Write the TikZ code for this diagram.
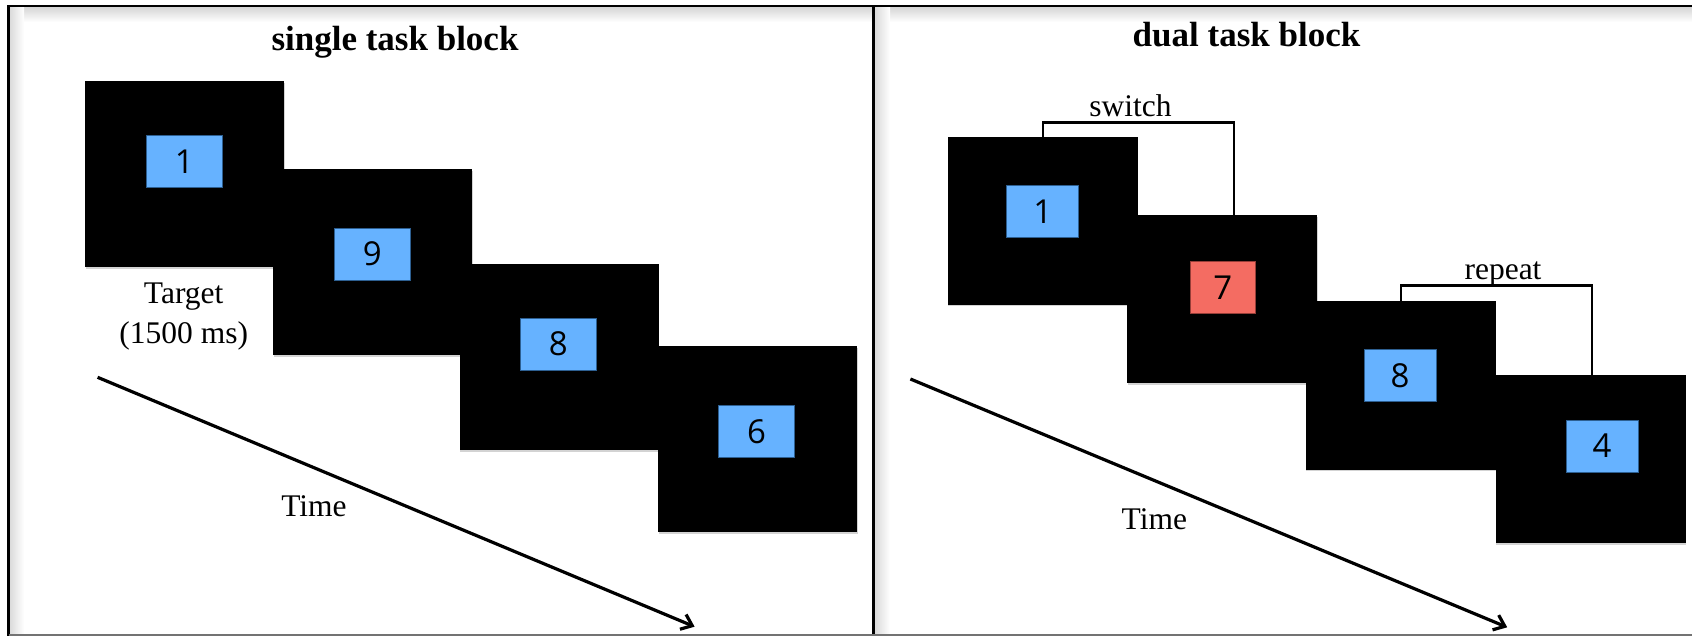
\documentclass[tikz,border=0pt]{standalone}
\usepackage{fontspec}
\setmainfont{Liberation Serif}
\newfontfamily\digitfont{Open Sans}
\usetikzlibrary{arrows.meta,shadows}
\definecolor{cueblue}{RGB}{102,178,255}
\definecolor{cueblueedge}{RGB}{45,95,145}
\definecolor{cuered}{RGB}{244,108,98}
\definecolor{cuerededge}{RGB}{150,62,56}

\begin{document}
\begin{tikzpicture}[x=1pt,y=-1pt,
  frameline/.style={line width=2.5pt, line cap=rect},
  screen/.style={fill=black, anchor=north west, inner sep=0pt, outer sep=0pt,
    drop shadow={shadow xshift=0.8pt, shadow yshift=-1.8pt, opacity=0.35}},
  lscreen/.style={screen, minimum width=199pt, minimum height=186pt},
  rscreen/.style={screen, minimum width=190pt, minimum height=168pt},
  cue/.style={fill=cueblue, draw=cueblueedge, line width=0.8pt, inner sep=0pt,
    minimum height=52pt, font=\digitfont\fontsize{33}{36}\selectfont},
  lcue/.style={cue, minimum width=76pt},
  rcue/.style={cue, minimum width=72pt},
  redcue/.style={cue, fill=cuered, draw=cuerededge, minimum width=65pt},
  heading/.style={font=\fontsize{35}{40}\selectfont\bfseries, anchor=base, inner sep=0pt},
  label/.style={font=\fontsize{31.5}{36}\selectfont, anchor=base, inner sep=0pt},
  timearrow/.style={line width=3.2pt, -{Straight Barb[length=10pt,width=16pt]}},
  bracket/.style={line width=2.6pt, line cap=rect}
]
\useasboundingbox (0,0) rectangle (1692,636);

% frame with its soft inner shadow
\shade[top color=black!16, bottom color=white] (10,7.3) rectangle (1692,22);
\shade[left color=black!14, right color=white] (10,7.3) rectangle (24,636);
\shade[left color=black!14, right color=white] (875.3,7.3) rectangle (890,636);
\draw[frameline] (8.6,645) -- (8.6,6) -- (1700,6);
\draw[line width=3.8pt] (873.5,6) -- (873.5,645);
\draw[black!55, line width=2pt] (8.6,635) -- (1700,635);

% ---------- single task block ----------
\node[heading] (t1) at (395,50.5) {single task block};

\node[lscreen] (l1) at (85,81.5) {};
\node[lscreen] (l2) at (272.7,169) {};
\node[lscreen] (l3) at (459.5,264) {};
\node[lscreen] (l4) at (658,346) {};

\node[lcue] (lc1) at (184.3,161.7) {1};
\node[lcue] (lc2) at (372.4,254) {9};
\node[lcue] (lc3) at (558.4,344) {8};
\node[lcue] (lc4) at (756.6,431.5) {6};

\node[label] (tg) at (183.7,304) {Target};
\node[label] (dur) at (183.7,343) {(1500 ms)};
\node[label] (time1) at (314,516.7) {Time};

\coordinate (a1s) at (97.6,377.3);
\coordinate (a1e) at (694.6,626.7);
\draw[timearrow] (a1s) -- (a1e);

% ---------- dual task block ----------
\node[heading] (t2) at (1246.5,46.5) {dual task block};

\node[rscreen] (r1) at (947.5,136.7) {};
\node[rscreen] (r2) at (1127,215) {};
\node[rscreen] (r3) at (1305.6,301.5) {};
\node[rscreen] (r4) at (1495.5,375) {};

\node[rcue] (rc1) at (1042.8,211.7) {1};
\node[redcue] (rc2) at (1222.9,287.5) {7};
\node[rcue] (rc3) at (1400,375.8) {8};
\node[rcue] (rc4) at (1602,446) {4};

% switch / repeat brackets
\coordinate (sw1) at (1043,122.3);
\coordinate (sw2) at (1234,122.3);
\draw[bracket] (r1.north -| sw1) -- (sw1) -- (sw2) -- (r2.north -| sw2);
\node[label] (sw) at (1130.5,116.7) {switch};

\coordinate (rp1) at (1401,285.7);
\coordinate (rp2) at (1592,285.7);
\draw[bracket] (r3.north -| rp1) -- (rp1) -- (rp2) -- (r4.north -| rp2);
\node[label] (rp) at (1503,279.3) {repeat};

\node[label] (time2) at (1154.4,529.3) {Time};

\coordinate (a2s) at (910.4,379);
\coordinate (a2e) at (1507.2,627.3);
\draw[timearrow] (a2s) -- (a2e);
\end{tikzpicture}
\end{document}
